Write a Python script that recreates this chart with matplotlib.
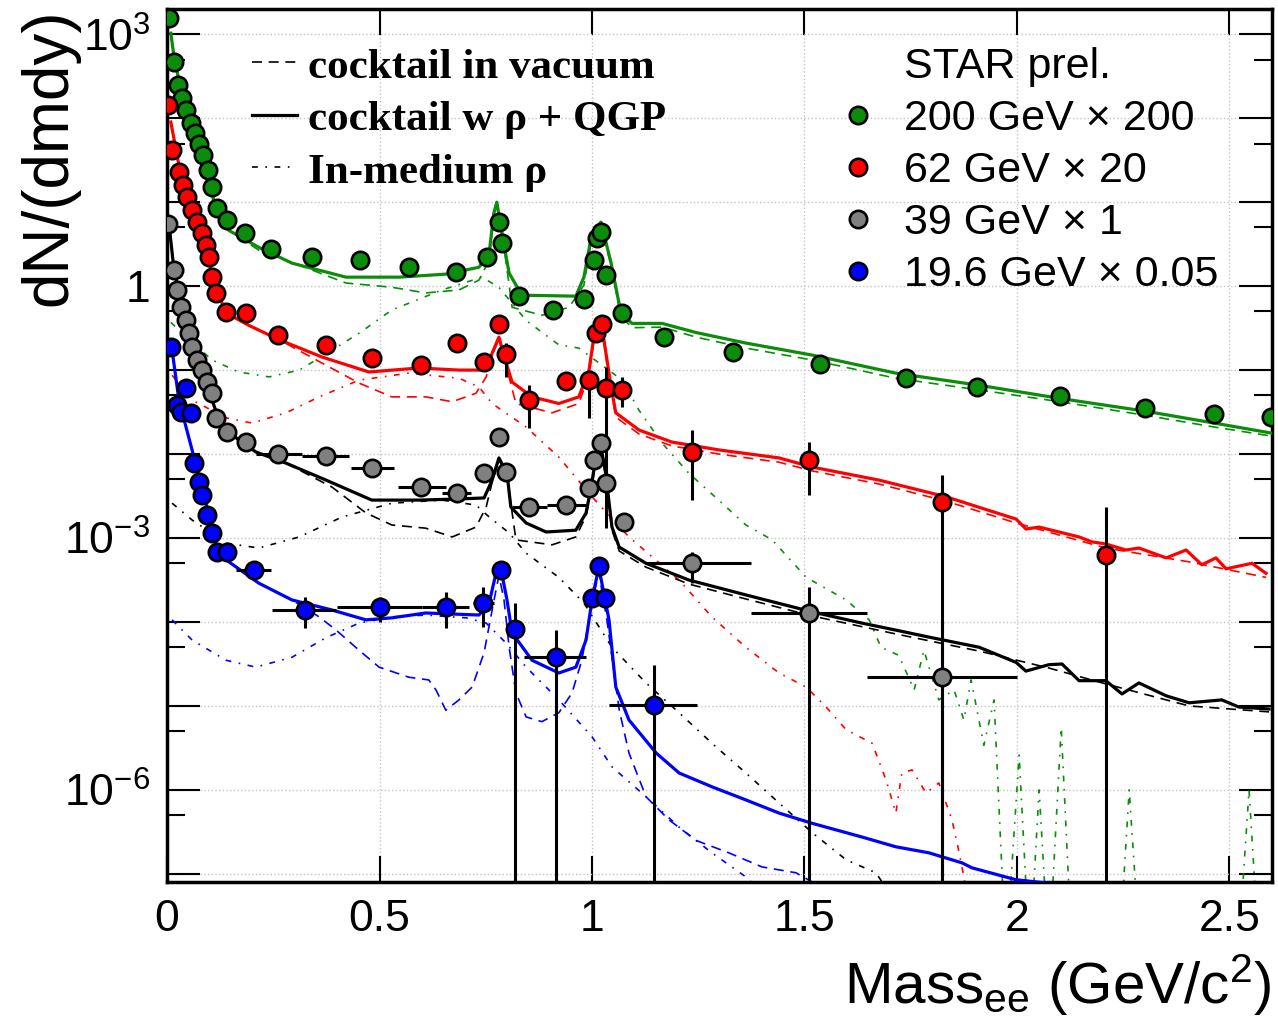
import matplotlib
matplotlib.use("Agg")
import matplotlib.pyplot as plt
from matplotlib.lines import Line2D
from matplotlib.ticker import FixedLocator, FuncFormatter, NullFormatter

plt.rcParams['font.family'] = ['Liberation Sans', 'DejaVu Sans']
plt.rcParams['mathtext.fontset'] = 'custom'
plt.rcParams['mathtext.rm'] = 'Liberation Sans'
plt.rcParams['mathtext.it'] = 'Liberation Sans:italic'

# ---- 200 GeV x 200 (green) ----
m200 = [0.005, 0.016, 0.026, 0.035, 0.045, 0.056, 0.066, 0.075, 0.085, 0.096, 0.106, 0.118, 0.141,
        0.184, 0.245, 0.341, 0.454, 0.569, 0.680, 0.753, 0.781, 0.788, 0.828, 0.908, 0.981, 1.005,
        1.012, 1.021, 1.033, 1.071, 1.169, 1.332, 1.536, 1.739, 1.906, 2.101, 2.301, 2.464, 2.598]
y200 = [1550, 464, 247, 173, 124, 87, 66, 50, 36, 24, 15, 8.5, 6.1,
        4.3, 2.8, 2.2, 2.04, 1.68, 1.47, 2.2, 5.8, 3.3, 0.76, 0.52, 0.70, 2.04,
        3.7, 4.4, 1.35, 0.48, 0.25, 0.164, 0.118, 0.080, 0.063, 0.049, 0.035, 0.030, 0.0275]
m200_full = [0.009, 0.016, 0.028, 0.040, 0.052, 0.064, 0.075, 0.087, 0.099, 0.113, 0.127, 0.146, 0.216,
             0.294, 0.421, 0.546, 0.656, 0.734, 0.758, 0.769, 0.776, 0.793, 0.805, 0.835, 0.962, 0.981,
             1.0, 1.021, 1.045, 1.068, 1.094, 1.165, 1.245, 1.362, 1.518, 1.715, 1.911, 2.101, 2.301,
             2.464, 2.598]
y200_full = [1030, 562, 283, 164, 100, 63, 42, 28, 17, 9.2, 6.1, 4.6, 2.9,
             1.88, 1.28, 1.28, 1.39, 1.68, 2.47, 7.4, 10, 3.08, 1.43, 0.78, 0.76, 1.28,
             4.3, 5.8, 1.88, 0.48, 0.36, 0.36, 0.28, 0.21, 0.151, 0.092, 0.066, 0.046, 0.0325,
             0.0234, 0.0178]
m200_vac = [0.009, 0.016, 0.028, 0.040, 0.052, 0.064, 0.075, 0.087, 0.099, 0.113, 0.127, 0.146, 0.216,
            0.311, 0.421, 0.529, 0.609, 0.687, 0.734, 0.758, 0.769, 0.776, 0.793, 0.812, 0.882, 0.946,
            0.981, 1.0, 1.021, 1.045, 1.068, 1.094, 1.165, 1.245, 1.362, 1.518, 1.715, 1.911, 2.101,
            2.301, 2.464, 2.598]
y200_vac = [1030, 562, 283, 164, 100, 63, 42, 28, 17, 9.2, 6.1, 4.6, 2.68,
            1.78, 1.09, 0.97, 0.83, 0.90, 1.18, 2.04, 7.0, 9.2, 2.9, 0.56, 0.45, 0.56,
            1.03, 3.9, 5.5, 1.73, 0.44, 0.32, 0.325, 0.247, 0.183, 0.132, 0.080, 0.058, 0.042,
            0.029, 0.021, 0.0164]
m200_rho = [0.009, 0.052, 0.106, 0.169, 0.240, 0.311, 0.381, 0.452, 0.529, 0.647, 0.741, 0.781, 0.845,
            0.922, 0.969, 1.071, 1.111, 1.165, 1.228, 1.299, 1.362, 1.424, 1.504, 1.598, 1.652, 1.680,
            1.722, 1.758, 1.781, 1.816, 1.852, 1.875, 1.892, 1.922, 1.946, 1.974, 2.005, 2.030, 2.052,
            2.075, 2.104, 2.130, 2.240, 2.264, 2.290, 2.520, 2.546, 2.570]
y200_rho = [0.37, 0.23, 0.132, 0.095, 0.083, 0.10, 0.164, 0.275, 0.52, 0.90, 1.28, 0.97, 0.39,
            0.20, 0.183, 0.076, 0.033, 0.0135, 0.0059, 0.0028, 0.00143, 9.5e-4, 3.4e-4, 1.83e-4, 1.06e-4, 5.0e-5,
            4.0e-5, 1.55e-5, 4.6e-5, 1.18e-5, 1.55e-5, 6.8e-6, 2.04e-5, 3.4e-6, 1.18e-5, 1e-8, 2.6e-6, 1e-8, 1e-6,
            1e-8, 5.5e-6, 1e-8, 1e-8, 1e-6, 1e-8, 1e-8, 1e-6, 1e-8]

# ---- 62 GeV x 20 (red) ----
m62 = [0.003, 0.012, 0.028, 0.038, 0.047, 0.059, 0.071, 0.082, 0.092, 0.099, 0.106, 0.115, 0.139,
       0.186, 0.261, 0.374, 0.482, 0.598, 0.682, 0.746, 0.781, 0.798, 0.852, 0.939, 0.993, 1.009,
       1.024, 1.033, 1.071, 1.235, 1.511, 1.824, 2.209]
y62 = [143, 42, 22.8, 15.9, 11.5, 8.0, 5.8, 4.3, 3.08, 2.2, 1.28, 0.83, 0.49,
       0.48, 0.26, 0.20, 0.139, 0.115, 0.21, 0.124, 0.35, 0.155, 0.044, 0.074, 0.076, 0.275,
       0.35, 0.061, 0.058, 0.0106, 0.0085, 0.0027, 6.3e-4]
v62_m = [0.798, 0.852, 0.993, 1.033, 1.071, 1.235, 1.511, 1.824, 2.209]
v62_lo = [0.083, 0.0204, 0.0268, 0.00131, 0.036, 0.00283, 0.00325, 1e-9, 1e-9]
v62_hi = [0.21, 0.066, 0.1, 0.109, 0.083, 0.0193, 0.0139, 0.0056, 0.00234]
m62_full = [0.009, 0.028, 0.052, 0.075, 0.092, 0.106, 0.122, 0.139, 0.193, 0.264, 0.365, 0.475, 0.593,
            0.687, 0.751, 0.765, 0.781, 0.798, 0.812, 0.859, 0.922, 0.969, 0.993, 1.005, 1.016, 1.028,
            1.045, 1.056, 1.111, 1.188, 1.299, 1.440, 1.518, 1.675, 1.833, 1.998, 2.021, 2.052, 2.146,
            2.176, 2.209, 2.256, 2.287, 2.351, 2.398, 2.435, 2.468, 2.492, 2.553, 2.586]
y62_full = [90, 27.6, 12.1, 5.3, 2.68, 1.35, 0.78, 0.48, 0.34, 0.23, 0.143, 0.095, 0.106,
            0.10, 0.10, 0.159, 0.247, 0.121, 0.072, 0.048, 0.040, 0.048, 0.10, 0.26, 0.325, 0.23,
            0.063, 0.031, 0.0193, 0.0139, 0.0112, 0.0090, 0.0070, 0.0049, 0.0031, 0.00168, 0.00128, 0.00135, 0.00103,
            9.0e-4, 8.5e-4, 7.2e-4, 7.6e-4, 5.8e-4, 7.2e-4, 4.8e-4, 5.8e-4, 4.3e-4, 5.0e-4, 3.8e-4]
m62_vac = [0.009, 0.028, 0.052, 0.075, 0.092, 0.106, 0.122, 0.139, 0.193, 0.264, 0.365, 0.452, 0.529,
           0.609, 0.671, 0.727, 0.751, 0.765, 0.781, 0.798, 0.821, 0.906, 0.969, 0.993, 1.005, 1.016,
           1.028, 1.045, 1.056, 1.111, 1.188, 1.299, 1.440, 1.518, 1.675, 1.833, 1.998, 2.209, 2.405, 2.586]
y62_vac = [90, 27.6, 12.1, 5.3, 2.68, 1.35, 0.78, 0.48, 0.34, 0.23, 0.121, 0.070, 0.048,
           0.048, 0.042, 0.053, 0.083, 0.151, 0.234, 0.112, 0.040, 0.031, 0.040, 0.087, 0.24, 0.31,
           0.21, 0.058, 0.0275, 0.0173, 0.0125, 0.010, 0.0080, 0.0063, 0.0044, 0.00275, 0.00151, 7.6e-4, 5.2e-4, 3.4e-4]
m62_rho = [0.012, 0.059, 0.139, 0.200, 0.280, 0.358, 0.452, 0.569, 0.687, 0.734, 0.765, 0.845, 0.922,
           1.0, 1.087, 1.205, 1.282, 1.362, 1.440, 1.504, 1.551, 1.598, 1.659, 1.692, 1.715, 1.729,
           1.753, 1.786, 1.816, 1.847, 1.864, 1.885]
y62_rho = [0.087, 0.044, 0.027, 0.0234, 0.031, 0.048, 0.076, 0.092, 0.080, 0.063, 0.040, 0.021, 0.0092,
           0.0031, 1.03e-3, 3.16e-4, 1.15e-4, 5.0e-5, 2.47e-5, 1.68e-5, 9.7e-6, 5.2e-6, 3.6e-6, 1.31e-6, 5.3e-7, 1.59e-6,
           1.73e-6, 9.2e-7, 1.21e-6, 4.4e-7, 1.78e-7, 5e-8]

# ---- 39 GeV x 1 (grey points, black curves) ----
m39 = [0.002, 0.016, 0.024, 0.033, 0.045, 0.052, 0.059, 0.071, 0.082, 0.094, 0.106, 0.115, 0.141,
       0.186, 0.261, 0.374, 0.482, 0.598, 0.682, 0.746, 0.781, 0.798, 0.852, 0.939, 0.993, 1.005,
       1.021, 1.033, 1.075, 1.235, 1.511, 1.824]
y39 = [5.5, 1.55, 0.90, 0.56, 0.39, 0.275, 0.188, 0.132, 0.10, 0.072, 0.053, 0.027, 0.0183,
       0.0139, 0.010, 0.0095, 0.0068, 0.00405, 0.00343, 0.0059, 0.0159, 0.0061, 0.00234, 0.00247, 0.00394, 0.0085,
       0.0135, 0.0045, 0.00155, 5.0e-4, 1.28e-4, 2.2e-5]
h39_m = [0.261, 0.374, 0.482, 0.598, 0.682, 0.852, 0.939, 1.235, 1.511, 1.824]
h39_lo = [0.209, 0.318, 0.433, 0.543, 0.647, 0.812, 0.894, 1.127, 1.375, 1.648]
h39_hi = [0.317, 0.428, 0.534, 0.657, 0.715, 0.894, 0.986, 1.374, 1.648, 2.000]
v39_m = [1.235, 1.511, 1.824]
v39_lo = [2.9e-4, 1e-9, 1e-9]
v39_hi = [6.8e-4, 2.6e-4, 1.0e-4]
m39_full = [0.005, 0.016, 0.028, 0.045, 0.064, 0.087, 0.106, 0.127, 0.169, 0.209, 0.280, 0.374, 0.482,
            0.593, 0.671, 0.746, 0.765, 0.781, 0.800, 0.809, 0.845, 0.892, 0.962, 0.986, 0.998, 1.009,
            1.021, 1.031, 1.047, 1.064, 1.127, 1.228, 1.362, 1.518, 1.635, 1.715, 1.793, 1.911, 1.998,
            2.021, 2.075, 2.106, 2.146, 2.209, 2.247, 2.287, 2.351, 2.405, 2.482, 2.522, 2.593]
y39_full = [5.3, 1.64, 0.85, 0.39, 0.173, 0.080, 0.044, 0.022, 0.0147, 0.0106, 0.0078, 0.0049, 0.00283,
            0.00283, 0.0029, 0.0030, 0.0049, 0.0090, 0.0059, 0.00234, 0.00151, 0.00118, 0.00124, 0.00199, 0.00405, 0.0090,
            0.0121, 0.0065, 1.35e-3, 7.8e-4, 5.0e-4, 3.16e-4, 2.1e-4, 1.32e-4, 9.7e-5, 8.0e-5, 6.6e-5, 5.0e-5, 3.3e-5,
            2.6e-5, 3.1e-5, 3.16e-5, 2.0e-5, 2.0e-5, 1.39e-5, 1.88e-5, 1.32e-5, 1.09e-5, 1.18e-5, 9.7e-6, 9.2e-6]
m39_vac = [0.005, 0.016, 0.028, 0.045, 0.064, 0.087, 0.106, 0.127, 0.169, 0.209, 0.280, 0.388, 0.468,
           0.529, 0.609, 0.671, 0.727, 0.751, 0.765, 0.781, 0.800, 0.821, 0.906, 0.962, 0.986, 0.998,
           1.009, 1.021, 1.031, 1.047, 1.064, 1.127, 1.228, 1.362, 1.518, 1.715, 1.911, 2.075, 2.209,
           2.405, 2.593]
y39_vac = [5.3, 1.64, 0.85, 0.39, 0.173, 0.080, 0.044, 0.022, 0.0147, 0.0106, 0.0078, 0.00405, 0.00199,
           0.00143, 0.00131, 0.00103, 0.00135, 0.00234, 0.0046, 0.0085, 0.0055, 9.5e-4, 8.3e-4, 1.03e-3, 1.83e-3, 0.0037,
           0.0083, 0.0112, 0.0059, 1.24e-3, 7.0e-4, 4.5e-4, 2.83e-4, 1.88e-4, 1.18e-4, 7.2e-5, 4.5e-5, 2.83e-5, 1.83e-5,
           1.0e-5, 8.5e-6]
m39_rho = [0.012, 0.059, 0.139, 0.216, 0.311, 0.412, 0.529, 0.647, 0.727, 0.758, 0.805, 0.845, 0.922,
           0.981, 1.047, 1.127, 1.205, 1.282, 1.362, 1.440, 1.518, 1.598, 1.668, 1.710]
y39_rho = [0.0026, 0.00164, 8.7e-4, 7.6e-4, 1.03e-3, 1.78e-3, 0.0026, 0.00283, 0.00247, 1.78e-3, 1.15e-3, 6.6e-4, 3.4e-4,
           1.68e-4, 5.0e-5, 1.88e-5, 8.3e-6, 3.6e-6, 1.59e-6, 7.0e-7, 3.1e-7, 1.47e-7, 1.03e-7, 5e-8]

# ---- 19.6 GeV x 0.05 (blue) ----
m19 = [0.009, 0.024, 0.033, 0.045, 0.056, 0.064, 0.075, 0.082, 0.094, 0.106, 0.118, 0.141, 0.205,
       0.325, 0.501, 0.656, 0.744, 0.786, 0.819, 0.915, 1.0, 1.016, 1.031, 1.146]
y19 = [0.188, 0.038, 0.0316, 0.061, 0.031, 0.0078, 0.0046, 0.00325, 0.00188, 0.00115, 6.8e-4, 6.8e-4, 4.2e-4,
       1.39e-4, 1.51e-4, 1.51e-4, 1.68e-4, 4.2e-4, 8.3e-5, 3.8e-5, 1.93e-4, 4.6e-4, 1.93e-4, 1.03e-5]
h19_m = [0.205, 0.325, 0.501, 0.656, 0.744, 0.915, 1.146]
h19_lo = [0.163, 0.247, 0.401, 0.600, 0.719, 0.840, 1.040]
h19_hi = [0.245, 0.398, 0.601, 0.710, 0.769, 0.986, 1.247]
v19_m = [0.325, 0.501, 0.656, 0.744, 0.819, 0.915, 1.146]
v19_lo = [8.5e-5, 1.0e-4, 8.5e-5, 8.7e-5, 1e-9, 1e-9, 1e-9]
v19_hi = [1.99e-4, 2.0e-4, 2.28e-4, 2.6e-4, 1.68e-4, 8.0e-5, 3.1e-5]
m19_full = [0.012, 0.028, 0.059, 0.082, 0.115, 0.139, 0.216, 0.294, 0.388, 0.468, 0.529, 0.609, 0.734,
            0.758, 0.774, 0.786, 0.800, 0.812, 0.859, 0.922, 0.962, 0.986, 1.0, 1.016, 1.040, 1.056,
            1.087, 1.151, 1.205, 1.282, 1.362, 1.440, 1.518, 1.635, 1.715, 1.793, 1.871, 1.894, 1.998, 2.10]
y19_full = [0.173, 0.044, 0.0112, 0.00405, 8.7e-4, 5.5e-4, 2.9e-4, 1.83e-4, 1.39e-4, 1.06e-4, 1.12e-4, 1.28e-4, 1.21e-4,
            1.68e-4, 3.8e-4, 4.2e-4, 1.83e-4, 7.4e-5, 3.5e-5, 2.47e-5, 2.9e-5, 6.1e-5, 1.83e-4, 4.5e-4, 1.06e-4, 1.68e-5,
            6.8e-6, 2.75e-6, 1.59e-6, 1.09e-6, 7.6e-7, 5.3e-7, 4.0e-7, 2.75e-7, 2.1e-7, 1.78e-7, 1.35e-7, 1.18e-7, 8.5e-8, 7.5e-8]
m19_vac = [0.012, 0.028, 0.059, 0.082, 0.115, 0.139, 0.216, 0.294, 0.358, 0.398, 0.452, 0.499, 0.569,
           0.616, 0.633, 0.656, 0.687, 0.718, 0.746, 0.765, 0.781, 0.793, 0.805, 0.821, 0.845, 0.882,
           0.922, 0.953, 0.976, 1.0, 1.016, 1.035, 1.064, 1.087, 1.127, 1.181, 1.245, 1.322, 1.400, 1.480,
           1.518, 1.56]
y19_vac = [0.173, 0.044, 0.0112, 0.00405, 8.7e-4, 5.5e-4, 2.9e-4, 1.83e-4, 1.15e-4, 8.0e-5, 4.6e-5, 2.9e-5, 2.2e-5,
           2.04e-5, 1.55e-5, 8.9e-6, 1.18e-5, 1.68e-5, 4.3e-5, 1.39e-4, 3.6e-4, 1.83e-4, 5.0e-5, 1.43e-5, 7.4e-6, 6.5e-6,
           8.3e-6, 1.43e-5, 3.5e-5, 1.68e-4, 3.9e-4, 1.06e-4, 9.0e-6, 2.75e-6, 8.3e-7, 4.4e-7, 2.5e-7, 1.78e-7, 1.21e-7, 1.03e-7,
           8.0e-8, 6e-8]
m19_rho = [0.012, 0.059, 0.139, 0.209, 0.294, 0.374, 0.452, 0.529, 0.609, 0.704, 0.751, 0.798, 0.845,
           0.922, 1.0, 1.047, 1.127, 1.205, 1.282, 1.362, 1.40]
y19_rho = [1.06e-4, 6.1e-5, 3.5e-5, 2.9e-5, 3.8e-5, 6.5e-5, 9.7e-5, 1.15e-4, 1.21e-4, 1.12e-4, 9.7e-5, 5.6e-5, 2.9e-5,
           1.18e-5, 4.3e-6, 1.88e-6, 8.3e-7, 3.6e-7, 1.78e-7, 9.2e-8, 6e-8]

labels = ['200 GeV \u00d7 200', '62 GeV \u00d7 20', '39 GeV \u00d7 1', '19.6 GeV \u00d7 0.05']
point_colors = ['#0b8c0b', '#ff0000', '#808080', '#0000ff']
line_colors = ['#0b8c0b', '#ff0000', '#000000', '#0000ff']

series = [
    (m200, y200, m200_full, y200_full, m200_vac, y200_vac, m200_rho, y200_rho),
    (m62, y62, m62_full, y62_full, m62_vac, y62_vac, m62_rho, y62_rho),
    (m39, y39, m39_full, y39_full, m39_vac, y39_vac, m39_rho, y39_rho),
    (m19, y19, m19_full, y19_full, m19_vac, y19_vac, m19_rho, y19_rho),
]
vbars = [(v62_m, v62_lo, v62_hi), (v39_m, v39_lo, v39_hi), (v19_m, v19_lo, v19_hi)]
hbars = [(m39, y39, h39_m, h39_lo, h39_hi), (m19, y19, h19_m, h19_lo, h19_hi)]

ls_vac = (0, (6, 4))
ls_rho = (0, (3.5, 4.5, 1.0, 4.5))

fig = plt.figure(figsize=(12.78, 10.21), dpi=100)
ax = fig.add_axes([167 / 1278, 1 - 882 / 1021, 1105 / 1278, 873 / 1021])
ax.set_yscale('log')
ax.set_xlim(0, 2.6)
ax.set_ylim(8.0e-8, 2.0e3)

for (m, y, mf, yf, mv, yv, mr, yr), lc in zip(series, line_colors):
    ax.plot(mr, yr, color=lc, lw=1.2, ls=ls_rho, zorder=2)
    ax.plot(mv, yv, color=lc, lw=1.2, ls=ls_vac, zorder=2)
    ax.plot(mf, yf, color=lc, lw=2.3, zorder=3)

# error bars
for bm, blo, bhi in vbars:
    ax.vlines(bm, blo, bhi, color='k', lw=2.2, zorder=4)
for m, y, hm, hlo, hhi in hbars:
    yy = [y[m.index(v)] for v in hm]
    ax.hlines(yy, hlo, hhi, color='k', lw=2.2, zorder=4)

handles = []
for (m, y, *_), pc, lab in zip(series, point_colors, labels):
    h, = ax.plot(m, y, ls='none', marker='o', ms=12.5, mfc=pc, mec='k', mew=1.9, zorder=6, label=lab)
    handles.append(h)

# axes style
for sp in ax.spines.values():
    sp.set_linewidth(2.5)
ax.set_xticks([0, 0.5, 1, 1.5, 2, 2.5])
ax.set_xticklabels(['0', '0.5', '1', '1.5', '2', '2.5'])
ax.yaxis.set_major_locator(FixedLocator([10.0 ** k for k in range(-7, 4)]))
ax.yaxis.set_minor_locator(FixedLocator([5 * 10.0 ** k for k in range(-8, 3)]))
ylabels = {3: r'10$^{3}$', 0: '1', -3: r'10$^{-3}$', -6: r'10$^{-6}$'}


def ylab(v, pos):
    import math
    k = int(round(math.log10(v)))
    return ylabels.get(k, '')


ax.yaxis.set_major_formatter(FuncFormatter(ylab))
ax.yaxis.set_minor_formatter(NullFormatter())
ax.tick_params(which='both', direction='in', top=True, right=True, width=1.5, labelsize=32)
ax.tick_params(axis='y', which='major', length=24, pad=12)
ax.tick_params(axis='y', which='minor', length=13)
ax.tick_params(axis='x', which='major', length=19, pad=12)
ax.grid(True, which='major', ls=':', color='#c4c4c4', lw=1.0)
ax.set_axisbelow(True)

# legends
h_vac = Line2D([], [], color='k', lw=1.2, ls=ls_vac)
h_full = Line2D([], [], color='k', lw=2.3)
h_rho = Line2D([], [], color='k', lw=1.2, ls=ls_rho)
leg1 = ax.legend([h_vac, h_full, h_rho], ['cocktail in vacuum', 'cocktail w \u03c1 + QGP', 'In-medium \u03c1'],
                 loc='upper left', bbox_to_anchor=(0.077, 0.956), frameon=False,
                 prop={'family': 'Liberation Serif', 'weight': 'bold', 'size': 31},
                 handlelength=1.05, handletextpad=0.26, labelspacing=0.31, borderpad=0, borderaxespad=0)
ax.add_artist(leg1)
blank = Line2D([], [], ls='none')
ax.legend([blank] + handles, ['STAR prel.'] + labels, loc='upper left', bbox_to_anchor=(0.606, 0.957),
          frameon=False, prop={'size': 31}, handlelength=1.0, handletextpad=0.57, labelspacing=0.28,
          borderpad=0, borderaxespad=0, numpoints=1)

fig.text(0.039, 0.992, 'dN/(dmdy)', rotation=90, ha='center', va='top', fontsize=46)
fig.text(0.995, 0.035, r'Mass$_{\mathrm{ee}}$ (GeV/c$^{2}$)', ha='right', va='center', fontsize=42)

fig.savefig('out.png', dpi=100, facecolor='white')
